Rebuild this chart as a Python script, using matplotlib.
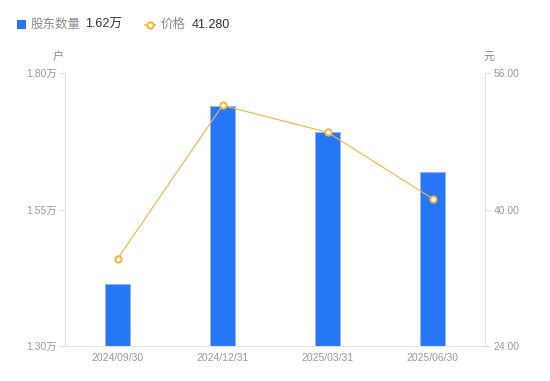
import matplotlib
matplotlib.use("Agg")
import matplotlib.pyplot as plt
from matplotlib.patches import Rectangle
from matplotlib.lines import Line2D

plt.rcParams['font.family'] = ['Liberation Sans', 'Noto Sans CJK SC', 'DejaVu Sans']

categories = ["2024/09/30", "2024/12/31", "2025/03/31", "2025/06/30"]
holders = [1.413, 1.740, 1.692, 1.619]   # 万户
prices = [34.2, 52.2, 49.05, 41.28]       # 元
left_ticks = [1.30, 1.55, 1.80]
left_labels = ["1.30万", "1.55万", "1.80万"]
right_ticks = [24.0, 40.0, 56.0]
right_labels = ["24.00", "40.00", "56.00"]

W, H = 550, 381
fig = plt.figure(figsize=(W/100, H/100), dpi=100)
ax = fig.add_axes([65/W, 1-346/H, 420/W, 273/H])
ax2 = ax.twinx()

bar_c = "#2677F5"
line_c = "#F5B33D"
tick_c = "#9A9AAB"
spine_c = "#E2E2E6"

x = list(range(len(categories)))
ax.bar(x, holders, width=0.24, color=bar_c, edgecolor="#8DB5F7", linewidth=0.6, zorder=2)
ax.set_xlim(-0.5, 3.5)
ax.set_ylim(1.30, 1.80)
ax.set_yticks(left_ticks)
ax.set_yticklabels(left_labels)
ax.set_xticks(x)
ax.set_xticklabels(categories)

ax2.plot(x, prices, color=line_c, linewidth=0.8, marker="o", markersize=4.5,
         markerfacecolor="white", markeredgecolor=line_c, markeredgewidth=1.4, zorder=3)
ax2.set_ylim(24, 56)
ax2.set_yticks(right_ticks)
ax2.set_yticklabels(right_labels)

for a in (ax, ax2):
    for s in a.spines.values():
        s.set_visible(False)
ax.spines['left'].set_visible(True)
ax.spines['left'].set_color(spine_c)
ax.spines['bottom'].set_visible(True)
ax.spines['bottom'].set_color(spine_c)
ax2.spines['right'].set_visible(True)
ax2.spines['right'].set_color(spine_c)

ax.tick_params(axis='y', colors=spine_c, labelcolor=tick_c, labelsize=7.5, length=4, width=0.8, pad=2)
ax.tick_params(axis='x', length=0, labelcolor=tick_c, labelsize=7.5, pad=5)
ax2.tick_params(axis='y', colors=spine_c, labelcolor=tick_c, labelsize=7.5, length=4, width=0.8, pad=2)

fig.text(58/W, 1-57/H, "户", color="#8A8A99", fontsize=8, ha='center', va='center')
fig.text(489/W, 1-57/H, "元", color="#8A8A99", fontsize=8, ha='center', va='center')

# legend
fig.patches.append(Rectangle((17/W, 1-29/H), 9/W, 9/H, transform=fig.transFigure,
                             facecolor=bar_c, edgecolor='none'))
fig.text(31/W, 1-24.5/H, "股东数量", color="#8A8A99", fontsize=9, ha='left', va='center')
fig.text(85/W, 1-24.5/H, "1.62万", color="#333340", fontsize=9, ha='left', va='center')
fig.lines.append(Line2D([145/W, 155/W], [1-24.5/H, 1-24.5/H], transform=fig.transFigure,
                        color=line_c, linewidth=1.2))
fig.lines.append(Line2D([150/W], [1-24.5/H], transform=fig.transFigure, color=line_c,
                        marker='o', markersize=4.5, markerfacecolor='white',
                        markeredgecolor=line_c, markeredgewidth=1.5, linestyle='none'))
fig.text(161/W, 1-24.5/H, "价格", color="#8A8A99", fontsize=9, ha='left', va='center')
fig.text(192/W, 1-24.5/H, "41.280", color="#333340", fontsize=9, ha='left', va='center')

fig.savefig("out.png", dpi=100, facecolor="white")
